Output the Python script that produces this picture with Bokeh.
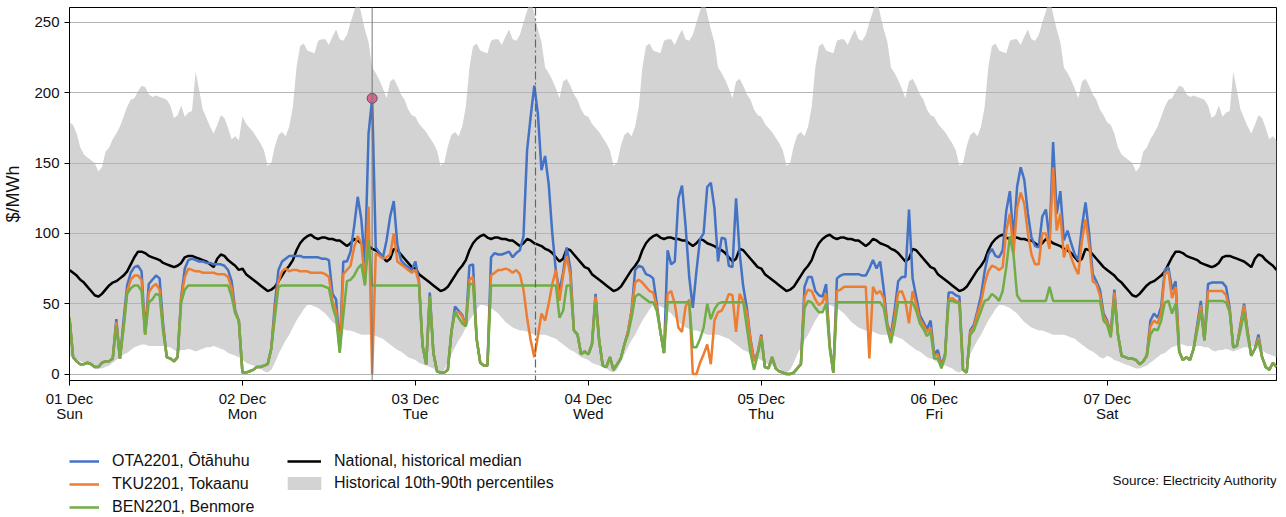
import numpy as np
import pandas as pd
from bokeh.plotting import figure
from bokeh.layouts import column
from bokeh.models import (ColumnDataSource, Range1d, FixedTicker, Span, Legend,
                          LegendItem, Label, DatetimeTickFormatter, DatetimeAxis)
from bokeh.embed import file_html
from bokeh.resources import INLINE

FONT = "Liberation Sans"

# ---- half-hourly trading periods, 01-07 Dec 2024 ----
start = pd.Timestamp("2024-12-01 00:00")
times = pd.date_range(start, periods=336, freq="30min")
day_starts = pd.date_range(start, periods=7, freq="D")
day_types = ["weekend", "weekday", "weekday", "weekday", "weekday", "weekday", "weekend"]

# Nodal prices ($/MWh), one row per half day (24 trading periods)
ota = [
    40, 12, 9, 7, 7, 8, 7, 5, 5, 8, 9, 9, 11, 39, 11, 38, 63, 72, 76, 77, 73, 29, 64, 67,
    70, 68, 35, 12, 11, 9, 12, 55, 75, 81, 82, 81, 80, 80, 79, 79, 78, 78, 78, 77, 74, 66, 45, 38,
    1, 1, 2, 3, 5, 5, 6, 7, 18, 50, 74, 80, 82, 84, 84, 84, 84, 83, 83, 83, 83, 83, 82, 82,
    81, 57, 53, 18, 80, 80, 87, 105, 126, 110, 78, 171, 196, 90, 86, 83, 95, 112, 123, 92, 81, 78, 76, 74,
    80, 66, 20, 7, 58, 15, 2, 1, 1, 3, 30, 48, 45, 42, 34, 77, 78, 25, 8, 6, 6, 83, 86, 85,
    85, 86, 87, 83, 86, 88, 98, 159, 183, 205, 185, 145, 155, 135, 100, 73, 59, 72, 90, 75, 31, 28, 14, 16,
    14, 21, 57, 24, 6, 5, 12, 3, 7, 11, 21, 30, 45, 74, 77, 76, 71, 70, 68, 50, 30, 15, 88, 78,
    80, 125, 134, 105, 69, 47, 73, 96, 100, 133, 136, 118, 80, 97, 96, 77, 76, 125, 86, 62, 47, 25, 10, 15,
    28, 5, 4, 12, 4, 2, 1, 0, 0, 1, 4, 7, 62, 69, 69, 59, 56, 55, 64, 20, 1, 68, 70, 71,
    71, 71, 71, 71, 70, 70, 75, 81, 75, 80, 60, 35, 28, 45, 66, 69, 69, 117, 68, 55, 42, 37, 32, 38,
    14, 17, 6, 14, 58, 58, 56, 55, 3, 1, 31, 35, 45, 56, 73, 85, 89, 84, 83, 88, 116, 130, 96, 133,
    147, 138, 114, 97, 91, 90, 112, 117, 95, 165, 114, 130, 95, 102, 93, 85, 81, 105, 122, 100, 71, 66, 60, 43,
    38, 29, 60, 28, 13, 12, 11, 11, 10, 7, 9, 13, 38, 43, 40, 48, 74, 76, 60, 66, 16, 10, 12, 10,
    18, 35, 52, 24, 64, 65, 65, 65, 65, 62, 47, 19, 20, 35, 50, 30, 13, 18, 28, 12, 5, 3, 8, 5,
]
tku = [
    40, 12, 9, 7, 7, 8, 7, 5, 5, 8, 9, 9, 11, 37, 11, 34, 59, 67, 70, 70, 67, 28, 58, 62,
    64, 60, 32, 12, 11, 9, 12, 54, 69, 75, 74, 73, 73, 72, 72, 72, 72, 71, 71, 71, 69, 61, 44, 38,
    1, 1, 2, 3, 5, 5, 6, 7, 18, 45, 66, 73, 75, 73, 74, 74, 73, 73, 73, 72, 72, 72, 72, 71,
    69, 52, 45, 16, 71, 74, 77, 90, 98, 93, 64, 119, 0, 86, 84, 82, 83, 85, 100, 80, 78, 76, 74, 72,
    74, 65, 20, 7, 55, 15, 2, 1, 1, 3, 30, 44, 44, 41, 34, 67, 69, 25, 8, 6, 6, 70, 72, 74,
    74, 75, 74, 72, 74, 71, 60, 40, 24, 12, 27, 43, 38, 50, 64, 74, 52, 70, 84, 70, 31, 28, 14, 16,
    14, 21, 55, 24, 6, 5, 12, 3, 7, 11, 21, 30, 45, 65, 67, 65, 62, 59, 58, 48, 30, 15, 57, 59,
    50, 33, 30, 48, 53, 0, 0, 8, 14, 21, 7, 38, 44, 45, 50, 57, 56, 30, 57, 52, 44, 24, 9, 15,
    27, 5, 4, 12, 4, 2, 1, 0, 0, 1, 4, 7, 55, 60, 59, 53, 49, 51, 57, 20, 1, 59, 60, 62,
    62, 62, 62, 62, 62, 62, 11, 62, 57, 59, 54, 34, 26, 40, 58, 59, 52, 36, 59, 50, 39, 35, 30, 33,
    13, 14, 5, 13, 53, 54, 52, 51, 3, 1, 30, 33, 43, 51, 64, 73, 77, 76, 74, 76, 102, 114, 86, 118,
    129, 121, 100, 85, 78, 78, 100, 100, 89, 147, 102, 114, 83, 92, 83, 76, 71, 95, 110, 92, 66, 64, 56, 41,
    37, 28, 58, 28, 13, 12, 11, 11, 10, 7, 9, 13, 34, 38, 36, 44, 71, 73, 54, 62, 16, 10, 12, 10,
    18, 33, 49, 24, 59, 59, 59, 59, 59, 56, 45, 19, 20, 34, 49, 29, 13, 18, 26, 12, 5, 3, 8, 5,
]
ben = [
    40, 12, 9, 7, 7, 8, 7, 5, 5, 8, 9, 9, 11, 34, 11, 32, 57, 61, 63, 63, 59, 28, 51, 53,
    57, 56, 30, 12, 11, 9, 12, 51, 60, 63, 63, 63, 63, 63, 63, 63, 63, 63, 63, 63, 63, 55, 43, 38,
    1, 1, 2, 3, 5, 5, 6, 7, 18, 40, 62, 63, 63, 63, 63, 63, 63, 63, 63, 63, 63, 63, 63, 62,
    61, 48, 40, 15, 42, 66, 67, 70, 75, 78, 63, 95, 63, 63, 63, 63, 63, 63, 63, 63, 63, 63, 63, 63,
    63, 63, 20, 7, 55, 15, 2, 1, 1, 3, 30, 44, 40, 36, 34, 64, 64, 25, 8, 6, 6, 63, 63, 63,
    63, 63, 63, 63, 63, 63, 63, 63, 63, 63, 63, 63, 63, 63, 63, 63, 40, 45, 63, 63, 31, 28, 14, 16,
    14, 21, 51, 24, 6, 5, 12, 3, 7, 11, 21, 28, 40, 55, 57, 55, 53, 51, 51, 45, 30, 15, 51, 51,
    51, 51, 51, 51, 51, 19, 19, 25, 33, 50, 39, 46, 50, 51, 51, 51, 51, 51, 51, 51, 33, 15, 3, 14,
    25, 5, 4, 12, 4, 2, 1, 0, 0, 1, 4, 7, 47, 52, 51, 47, 44, 44, 50, 18, 1, 51, 51, 51,
    51, 51, 51, 51, 51, 51, 51, 51, 51, 51, 47, 32, 22, 35, 51, 51, 51, 51, 51, 45, 36, 32, 27, 30,
    11, 11, 4, 12, 52, 52, 51, 50, 3, 1, 28, 31, 38, 45, 52, 53, 57, 55, 52, 59, 76, 98, 85, 56,
    52, 52, 52, 52, 52, 52, 52, 52, 62, 52, 52, 52, 52, 52, 52, 52, 52, 52, 52, 52, 52, 52, 52, 38,
    35, 26, 53, 28, 13, 12, 11, 11, 10, 7, 9, 13, 28, 32, 31, 38, 51, 52, 43, 50, 16, 10, 12, 10,
    18, 31, 45, 24, 52, 52, 52, 52, 52, 51, 44, 19, 20, 31, 44, 27, 13, 18, 24, 12, 5, 3, 8, 5,
]

# Historical national statistics by trading period and day type
weekday_p90 = [183, 178, 175, 172, 168, 164, 159, 148, 150, 162, 170, 172, 169, 176, 190, 218,
               233, 235, 230, 229, 228, 237, 238, 238, 234, 240, 245, 238, 237, 241, 250, 258,
               268, 256, 245, 236, 218, 214, 209, 203, 196, 208, 210, 205, 199, 195, 188, 184]
weekday_p10 = [10, 8, 7, 6, 5, 4, 2, 1, 3, 8, 14, 19, 24, 28, 33, 38,
               42, 46, 49, 49, 48, 47, 45, 43, 40, 37, 35, 33, 32, 31, 31, 30,
               29, 28, 28, 28, 28, 27, 26, 25, 23, 21, 19, 17, 16, 14, 12, 11]
weekday_med = [75, 71, 69, 67, 65, 63, 61, 59, 60, 62, 66, 70, 74, 77, 81, 88,
               93, 96, 98, 99, 97, 96, 97, 97, 96, 96, 95, 95, 93, 91, 93, 96,
               95, 93, 92, 91, 89, 88, 86, 83, 80, 82, 89, 88, 85, 82, 79, 76]
weekend_p90 = [179, 177, 171, 161, 156, 154, 152, 150, 144, 147, 158, 161, 167, 171, 176, 183,
               190, 195, 196, 201, 205, 204, 199, 197, 198, 197, 196, 195, 191, 182, 184, 191,
               183, 186, 187, 215, 202, 188, 182, 176, 171, 177, 184, 182, 175, 167, 169, 166]
weekend_p10 = [13, 12, 10, 9, 8, 7, 6, 5, 4, 4, 5, 6, 8, 10, 12, 14,
               15, 17, 19, 20, 21, 21, 20, 20, 20, 20, 20, 19, 19, 17, 16, 17,
               17, 18, 17, 16, 17, 18, 19, 19, 20, 19, 18, 17, 15, 14, 13, 12]
weekend_med = [74, 72, 70, 67, 65, 62, 59, 56, 55, 57, 60, 63, 65, 66, 68, 70,
               73, 78, 83, 87, 87, 86, 84, 83, 82, 81, 79, 78, 77, 76, 77, 79,
               83, 84, 84, 83, 82, 81, 80, 78, 76, 82, 85, 84, 81, 79, 77, 74]

profiles = {
    "weekday": (weekday_p10, weekday_p90, weekday_med),
    "weekend": (weekend_p10, weekend_p90, weekend_med),
}
p10 = sum((profiles[d][0] for d in day_types), [])
p90 = sum((profiles[d][1] for d in day_types), [])
med = sum((profiles[d][2] for d in day_types), [])

highlight_time = pd.Timestamp("2024-12-02 18:00")
current_time = pd.Timestamp("2024-12-03 16:40")

BLUE, ORANGE, GREEN, BAND = "#4472c4", "#ed7d31", "#70ad47", "#d3d3d3"
TEXT = "#111111"

src = ColumnDataSource(dict(t=times, ota=ota, tku=tku, ben=ben, p10=p10, p90=p90, med=med))


def draw_series(fig):
    """Band, median and the three nodal price lines; returns their renderers."""
    r = {}
    r["band"] = fig.varea(x="t", y1="p10", y2="p90", source=src, fill_color=BAND, level="image")
    r["med"] = fig.line("t", "med", source=src, line_color="black", line_width=2.5)
    r["ota"] = fig.line("t", "ota", source=src, line_color=BLUE, line_width=2.5)
    r["tku"] = fig.line("t", "tku", source=src, line_color=ORANGE, line_width=2.5)
    r["ben"] = fig.line("t", "ben", source=src, line_color=GREEN, line_width=2.5)
    return r


# ---- main chart ----
p = figure(width=1286, height=430, x_axis_type="datetime",
           output_backend="svg", toolbar_location=None,
           x_range=Range1d(times[0], times[-1]), y_range=Range1d(-4.6, 260.6),
           min_border_left=68, min_border_right=10, min_border_top=7, min_border_bottom=50)
p.background_fill_color = "white"
p.border_fill_color = "white"
p.outline_line_color = "black"
p.outline_line_width = 1

draw_series(p)

p.add_layout(Span(location=highlight_time, dimension="height",
                  line_color="#777777", line_width=1))
p.add_layout(Span(location=current_time, dimension="height",
                  line_color="#666666", line_width=1.2, line_dash="8 3 2 3"))

hi = times.get_loc(highlight_time)
p.scatter(x=[times[hi]], y=[ota[hi]], size=10, fill_color="#dc6490",
          line_color="#555555", line_width=1)

p.xgrid.visible = False
p.ygrid.grid_line_color = "#b4b4b4"
p.ygrid.grid_line_width = 1

day_ticks = [d.value / 1e6 for d in day_starts]
p.xaxis.ticker = FixedTicker(ticks=day_ticks)
p.xaxis.formatter = DatetimeTickFormatter(days="%d %b")
p.yaxis.ticker = FixedTicker(ticks=[0, 50, 100, 150, 200, 250])

# weekday names on a second row under the dates
wk_axis = DatetimeAxis(ticker=FixedTicker(ticks=day_ticks),
                       formatter=DatetimeTickFormatter(days="%a"))
p.add_layout(wk_axis, "below")

for ax in (p.xaxis[0], p.yaxis[0], wk_axis):
    ax.axis_line_color = "black"
    ax.major_tick_line_color = "black"
    ax.major_tick_out = 5
    ax.major_tick_in = 0
    ax.minor_tick_line_color = None
    ax.major_label_text_font = FONT
    ax.major_label_text_font_size = "15px"
    ax.major_label_text_color = TEXT
    ax.major_label_standoff = 5
p.xaxis[0].major_label_standoff = 4
wk_axis.axis_line_color = None
wk_axis.major_tick_line_color = None
wk_axis.major_tick_out = 0
wk_axis.major_label_standoff = -5

p.yaxis.axis_label = "$/MWh"
p.yaxis.axis_label_text_font = FONT
p.yaxis.axis_label_text_font_size = "18px"
p.yaxis.axis_label_text_font_style = "normal"
p.yaxis.axis_label_text_color = TEXT
p.yaxis.axis_label_standoff = 8

# ---- legend strip (its frame lines up with the chart frame, x 68..1276) ----
H2 = 87
q = figure(width=1286, height=H2, output_backend="svg", toolbar_location=None,
           x_range=Range1d(times[0], times[-1]), y_range=Range1d(1000, 1000 + H2),
           min_border=0)
q.axis.visible = False
q.grid.visible = False
q.outline_line_color = None
q.background_fill_color = "white"
q.border_fill_color = "white"

# same series, kept outside the strip's view so only their legend keys show
keys = draw_series(q)


def make_legend(items, loc, gw, gh, standoff, spacing=3):
    leg = Legend(items=items, location=loc, orientation="vertical",
                 glyph_width=gw, glyph_height=gh, label_height=gh,
                 label_standoff=standoff, spacing=spacing, padding=0, margin=0,
                 border_line_color=None, background_fill_alpha=0,
                 label_text_font=FONT, label_text_font_size="16px",
                 label_text_color=TEXT)
    q.add_layout(leg)


make_legend([LegendItem(label="OTA2201, Ōtāhuhu", renderers=[keys["ota"]]),
             LegendItem(label="TKU2201, Tokaanu", renderers=[keys["tku"]]),
             LegendItem(label="BEN2201, Benmore", renderers=[keys["ben"]])],
            (0, 0), 30, 20, 13)
make_legend([LegendItem(label="National, historical median", renderers=[keys["med"]])],
            (218, 46), 34, 20, 13)
make_legend([LegendItem(label="Historical 10th-90th percentiles", renderers=[keys["band"]])],
            (214, 25), 42, 16, 9)

q.add_layout(Label(x=1208, y=37, x_units="screen", y_units="screen",
                   text="Source: Electricity Authority", text_align="right",
                   text_baseline="middle", text_font=FONT, text_font_size="13.5px",
                   text_color=TEXT))

layout = column(p, q, spacing=0)
open("out.html", "w").write(file_html(layout, INLINE))
